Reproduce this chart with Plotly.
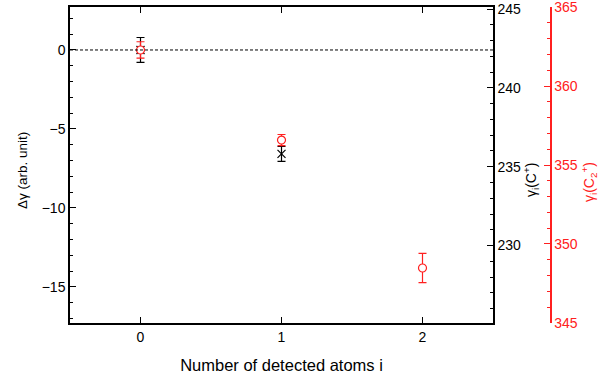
import plotly.graph_objects as go

# data
red_x = [0, 1, 2]
red_y = [0.0, -5.7, -13.8]
red_err = [0.52, 0.35, 0.93]
black_x = [0, 1]
black_y = [0.0, -6.58]
black_err = [0.79, 0.47]
baseline = 0

FONT = "Liberation Sans"
RED = "#ff2020"

fig = go.Figure()
fig.add_hline(y=baseline, line=dict(color="black", width=1, dash="3px,2px"))
fig.add_trace(go.Scatter(
    x=black_x, y=black_y, mode="markers",
    marker=dict(symbol="x-thin", size=8, line=dict(color="black", width=1.2)),
    error_y=dict(type="data", array=black_err, color="black", thickness=1.2, width=4),
    showlegend=False))
fig.add_trace(go.Scatter(
    x=red_x, y=red_y, mode="markers",
    marker=dict(symbol="circle", size=8, color="white", line=dict(color=RED, width=1.2)),
    error_y=dict(type="data", array=red_err, color=RED, thickness=1.2, width=4),
    showlegend=False))
# invisible traces to activate right axes
fig.add_trace(go.Scatter(x=[None], y=[None], yaxis="y2", showlegend=False))
fig.add_trace(go.Scatter(x=[None], y=[None], yaxis="y3", showlegend=False))

W, H = 598, 383
L, R, T, B = 70, 38, 7, 60
pw = W - L - R
dom_r = (493 - L) / pw

axfont = dict(family=FONT, size=14, color="black")
fig.update_layout(
    width=W, height=H, margin=dict(l=L, r=R, t=T, b=B, autoexpand=False),
    plot_bgcolor="white", paper_bgcolor="white",
    font=dict(family=FONT, size=14, color="black"),
    xaxis=dict(domain=[0, dom_r], range=[-0.5, 2.5], tickvals=[0, 1, 2],
               ticks="inside", ticklen=6, tickcolor="black", showline=True,
               linecolor="black", linewidth=1.5, mirror="ticks", showgrid=False,
               zeroline=False, tickfont=axfont, automargin=False,
               title=dict(text="Number of detected atoms i",
                          font=dict(family=FONT, size=16.5, color="black"), standoff=16)),
    yaxis=dict(range=[-17.28, 2.72], tickvals=[-15, -10, -5, 0], ticks="inside",
               ticklen=6, tickcolor="black", showline=True, linecolor="black",
               linewidth=1.5, showgrid=False, zeroline=False, tickfont=axfont,
               automargin=False,
               minor=dict(dtick=1, ticks="inside", ticklen=3, tickcolor="black")),
    yaxis2=dict(range=[225.09, 245.13], overlaying="y", side="right", anchor="x",
                tickvals=[230, 235, 240, 245], ticks="inside", ticklen=6,
                tickcolor="black", showline=True, linecolor="black", linewidth=1.5,
                showgrid=False, zeroline=False, tickfont=axfont,
                ticklabeloverflow="allow", automargin=False,
                minor=dict(dtick=1, ticks="inside", ticklen=3, tickcolor="black")),
    yaxis3=dict(range=[344.995, 365.005], overlaying="y", side="right", anchor="free",
                position=(550.7 - L) / pw, tickvals=[345, 350, 355, 360, 365],
                ticks="inside", ticklen=6, tickcolor=RED, showline=True,
                linecolor=RED, linewidth=1.5, showgrid=False, zeroline=False,
                ticklabeloverflow="allow", automargin=False,
                tickfont=dict(family=FONT, size=14, color=RED),
                minor=dict(dtick=1, ticks="inside", ticklen=3, tickcolor=RED)),
)

ph = H - T - B
def py(p):
    return (H - B - p) / ph
def px(p):
    return (p - L) / pw

fig.add_annotation(text="Δγ (arb. unit)", xref="paper", yref="paper",
                   x=px(22), y=py(171), textangle=-90, showarrow=False,
                   xanchor="center", yanchor="middle", font=dict(family=FONT, size=13.5))
fig.add_annotation(text="γ<sub>i</sub>(C<sup>+</sup>)", xref="paper", yref="paper",
                   x=px(531), y=py(180), textangle=-90, showarrow=False,
                   xanchor="center", yanchor="middle", font=dict(family=FONT, size=14))
fig.add_annotation(text="γ<sub>i</sub>(C<sub>2</sub><sup>+</sup>)", xref="paper", yref="paper",
                   x=px(589), y=py(182), textangle=-90, showarrow=False,
                   xanchor="center", yanchor="middle", font=dict(family=FONT, size=14, color=RED))

fig.write_html("out.html")
